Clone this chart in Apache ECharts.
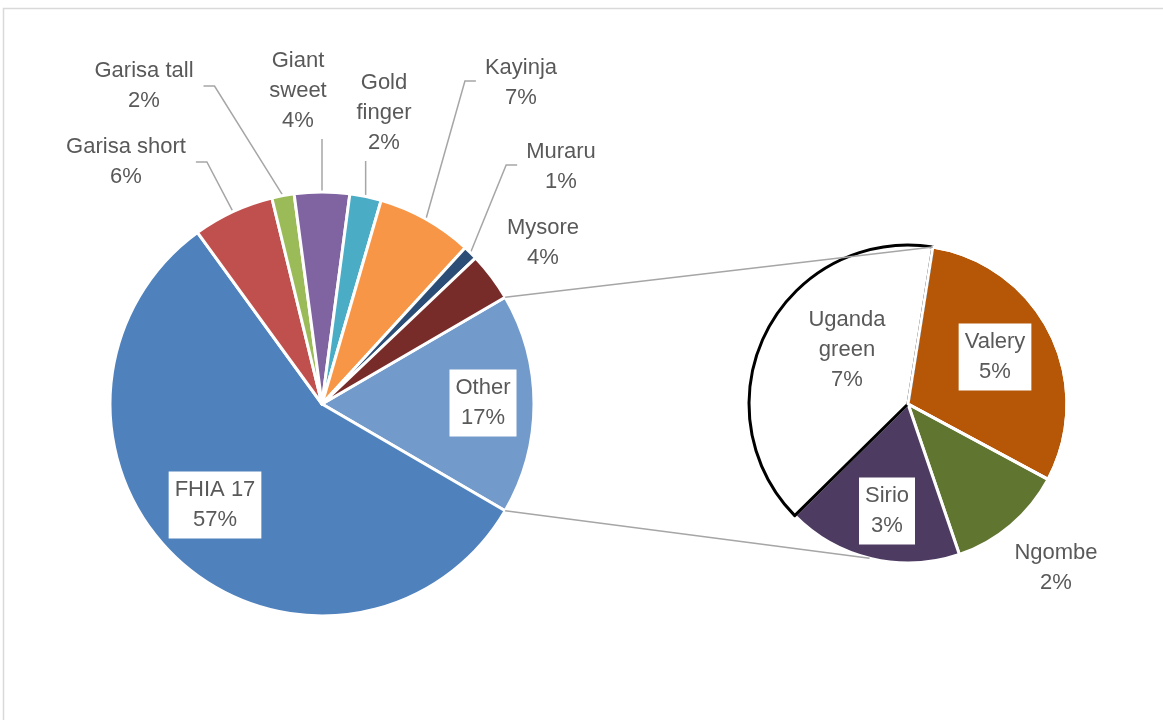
<!DOCTYPE html>
<html>
<head>
<meta charset="utf-8">
<title>Banana varieties</title>
<script src="https://cdn.jsdelivr.net/npm/echarts@6/dist/echarts.min.js"></script>
<style>
  html, body { margin: 0; padding: 0; background: #ffffff; }
  #chart { width: 1163px; height: 720px; }
</style>
</head>
<body>
<div id="chart"></div>
<script>
// Share of each banana variety (percent of all plants)
const mainCategories = ['Other', 'FHIA 17', 'Garisa short', 'Garisa tall', 'Giant sweet', 'Gold finger', 'Kayinja', 'Muraru', 'Mysore'];
const mainShares = [null, 56.6, 6.2, 1.7, 4.2, 2.4, 7.3, 1.1, 3.7];

// Varieties grouped under "Other", broken out in the secondary pie
const otherCategories = ['Valery', 'Ngombe', 'Sirio', 'Uganda green'];
const otherShares = [5.1, 2.0, 3.0, 6.7];

// "Other" is the sum of the broken-out varieties
mainShares[0] = Math.round(otherShares.reduce((a, b) => a + b, 0) * 10) / 10;

// ---- styling ----
const FONT = '"Liberation Sans", Arial, sans-serif';
const TEXT = '#595959';
const LINE = '#A6A6A6';
const colors = {
  'Other': '#729ACA', 'FHIA 17': '#4F81BD', 'Garisa short': '#C0504D', 'Garisa tall': '#9BBB59',
  'Giant sweet': '#8064A2', 'Gold finger': '#4BACC6', 'Kayinja': '#F79646', 'Muraru': '#2C4D75',
  'Mysore': '#772C2A', 'Valery': '#B65708', 'Ngombe': '#5F7530', 'Sirio': '#4D3B62', 'Uganda green': '#FFFFFF'
};
const wrapped = { 'Giant sweet': 'Giant\nsweet', 'Gold finger': 'Gold\nfinger', 'Uganda green': 'Uganda\ngreen' };
const boxed = { 'FHIA 17': 1, 'Other': 1, 'Valery': 1, 'Sirio': 1 };
const noLeader = { 'FHIA 17': 1, 'Other': 1, 'Valery': 1, 'Sirio': 1, 'Uganda green': 1, 'Mysore': 1, 'Ngombe': 1 };
// which side of the label a leader line attaches to
const leaderSide = {
  'Garisa short': 'right', 'Garisa tall': 'right', 'Giant sweet': 'below',
  'Gold finger': 'below', 'Kayinja': 'left', 'Muraru': 'left'
};
// label block centres
const labelAt = {
  'FHIA 17': [215, 505], 'Other': [483, 403], 'Garisa short': [126, 162], 'Garisa tall': [144, 86],
  'Giant sweet': [298, 91], 'Gold finger': [384, 113], 'Kayinja': [521, 83], 'Muraru': [561, 167],
  'Mysore': [543, 243], 'Uganda green': [847, 350], 'Valery': [995, 357], 'Sirio': [887, 511],
  'Ngombe': [1056, 568]
};

const mainCenter = [322, 404], mainR = 212;
const subCenter = [908, 404], subR = 159;
const subStart = 81;
const subBottomLink = -104;

const seriesNames = [mainCategories, otherCategories];

function makeItems(names, values) {
  return names.map((n, i) => {
    const item = {
      name: n,
      value: values[i],
      itemStyle: { color: colors[n] },
      label: boxed[n] ? { backgroundColor: '#ffffff', padding: [4, 6, 3, 6] } : {},
      labelLine: { show: !noLeader[n] }
    };
    if (n === 'Uganda green') {
      item.itemStyle.borderColor = '#000000';
      item.itemStyle.borderWidth = 3;
    }
    return item;
  });
}

function labelText(p) {
  return (wrapped[p.name] || p.name) + '\n' + Math.round(p.value) + '%';
}

function layoutFor(p) {
  const name = seriesNames[p.seriesIndex][p.dataIndex];
  const pos = labelAt[name];
  if (!pos) return {};
  const out = { x: pos[0], y: pos[1], align: 'center', verticalAlign: 'middle' };
  const side = leaderSide[name];
  if (side && p.labelLinePoints && p.labelRect) {
    const a = p.labelLinePoints[0];
    const w = p.labelRect.width, h = p.labelRect.height;
    if (side === 'right') {
      const e = pos[0] + w / 2 + 10;
      out.labelLinePoints = [[a[0], a[1]], [e + 11, pos[1]], [e, pos[1]]];
    } else if (side === 'left') {
      const e = pos[0] - w / 2 - 9;
      out.labelLinePoints = [[a[0], a[1]], [e - 11, pos[1] - 2], [e, pos[1] - 2]];
    } else {
      const e = pos[1] + h / 2 + 3;
      out.labelLinePoints = [[a[0], a[1]], [a[0], (a[1] + e) / 2], [a[0], e]];
    }
  }
  return out;
}

const commonLabel = {
  show: true,
  position: 'outside',
  formatter: labelText,
  color: TEXT,
  fontFamily: FONT,
  fontSize: 22,
  lineHeight: 30,
  align: 'center'
};

const mainStart = mainShares[0] / 100 * 180;

const chart = echarts.init(document.getElementById('chart'), null, { renderer: 'canvas' });

// connector lines from the edges of "Other" to the secondary pie
const rad = d => d * Math.PI / 180;
const mTop = [mainCenter[0] + mainR * Math.cos(rad(mainStart)), mainCenter[1] - mainR * Math.sin(rad(mainStart))];
const mBot = [mainCenter[0] + mainR * Math.cos(rad(mainStart)), mainCenter[1] + mainR * Math.sin(rad(mainStart))];
const sTop = [subCenter[0] + subR * Math.cos(rad(subStart)), subCenter[1] - subR * Math.sin(rad(subStart))];
const sBot = [subCenter[0] + subR * Math.cos(rad(subBottomLink)), subCenter[1] - subR * Math.sin(rad(subBottomLink))];

// outline pass: repaints the white separator of "Valery" over the black edge of "Uganda green"
const outlineItems = otherCategories.map((n, i) => ({
  name: n,
  value: otherShares[i],
  itemStyle: n === 'Valery'
    ? { color: 'rgba(0,0,0,0)', borderColor: '#ffffff', borderWidth: 3 }
    : { color: 'rgba(0,0,0,0)', borderWidth: 0 }
}));

chart.setOption({
  backgroundColor: '#ffffff',
  animation: false,
  graphic: [
    { type: 'rect', z: -10, silent: true, shape: { x: 3.5, y: 8.5, width: 1300, height: 900 },
      style: { fill: 'none', stroke: '#D9D9D9', lineWidth: 1.5 } },
    { type: 'line', z: 10, silent: true, shape: { x1: mTop[0], y1: mTop[1], x2: sTop[0], y2: sTop[1] },
      style: { stroke: LINE, lineWidth: 1.5 } },
    { type: 'line', z: 10, silent: true, shape: { x1: mBot[0], y1: mBot[1], x2: sBot[0], y2: sBot[1] },
      style: { stroke: LINE, lineWidth: 1.5 } }
  ],
  series: [
    {
      type: 'pie',
      center: mainCenter,
      radius: mainR,
      startAngle: mainStart,
      clockwise: true,
      avoidLabelOverlap: false,
      itemStyle: { borderColor: '#ffffff', borderWidth: 3 },
      label: commonLabel,
      labelLine: { show: true, length: 10, length2: 10, lineStyle: { color: LINE, width: 1.5 } },
      labelLayout: layoutFor,
      emphasis: { disabled: true },
      data: makeItems(mainCategories, mainShares)
    },
    {
      type: 'pie',
      center: subCenter,
      radius: subR,
      startAngle: subStart,
      clockwise: true,
      avoidLabelOverlap: false,
      itemStyle: { borderColor: '#ffffff', borderWidth: 3 },
      label: commonLabel,
      labelLine: { show: false },
      labelLayout: layoutFor,
      emphasis: { disabled: true },
      data: makeItems(otherCategories, otherShares)
    },
    {
      type: 'pie',
      z: 3,
      silent: true,
      center: subCenter,
      radius: subR,
      startAngle: subStart,
      clockwise: true,
      label: { show: false },
      labelLine: { show: false },
      emphasis: { disabled: true },
      tooltip: { show: false },
      data: outlineItems
    }
  ]
});
</script>
</body>
</html>
